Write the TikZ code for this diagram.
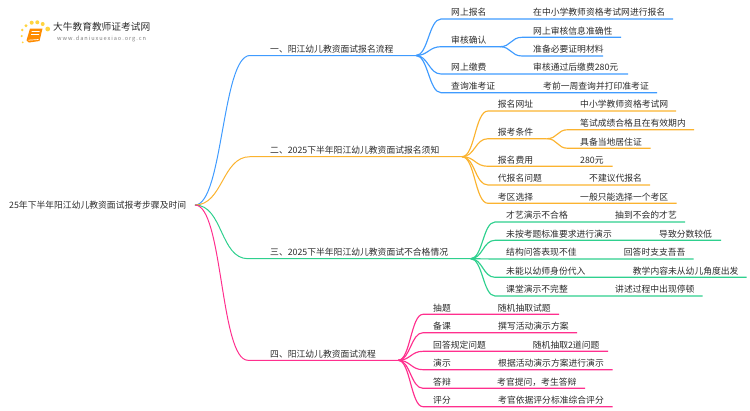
\documentclass[tikz,border=0pt]{standalone}
\usepackage{fontspec}
\setmainfont{Noto Sans CJK SC}
\definecolor{blueln}{HTML}{3F9BFF}
\definecolor{orangeln}{HTML}{FBB32F}
\definecolor{greenln}{HTML}{2ED08E}
\definecolor{pinkln}{HTML}{FF2F8E}
\definecolor{inkc}{HTML}{2B2B2B}
\tikzset{
    lab/.style={anchor=base west, inner sep=0pt, yshift=3.3pt, text=inkc, font=\fontsize{8.8}{9}\selectfont},
    trunk/.style={line width=1pt},
    limb/.style={line width=1.15pt},
    sundot/.style={fill=orange!45!yellow, draw=none, opacity=0.75}
}
\newcommand{\swing}[2]{.. controls +(#1,0) and +(-#1,0) .. (#2)}

\begin{document}
\begin{tikzpicture}[x=1pt, y=-1pt]
    \useasboundingbox (0,0) rectangle (750,410);
    % logo
    \foreach \dotx/\doty/\dotr in {47.7/29/2.4, 42.7/24/2, 37.3/22.3/2, 31.7/22.7/2, 26/25.7/1.6, 22.3/30/1.4, 21.7/36/1.2, 22.7/42.3/1}
        \fill[sundot] (\dotx,\doty) circle (\dotr);
    \fill[orange!90!yellow] (30,28.5) -- (42.5,28.5) -- (39.5,41) -- (29,42.5) -- (26.5,40.5) -- cycle;
    \draw[white, line width=0.7pt] (31.5,31.5) -- (39.5,31.5) (31,34.5) -- (39,34.5) (28.5,40.2) -- (38.5,39.5);
    \node[anchor=west, inner sep=0pt, text=inkc, font=\fontsize{9.7}{10}\selectfont] (logoname) at (53,27) {大牛教育教师证考试网};
    \node[anchor=west, inner sep=0pt, text=black!50, font=\fontsize{5.6}{6}\selectfont] (logourl) at (57,39) {w\,w\,w\,.\,d\,a\,n\,i\,u\,x\,u\,e\,x\,i\,a\,o\,.\,o\,r\,g\,.\,c\,n};

    % root
    \node[anchor=west, inner sep=0pt, text=inkc, font=\fontsize{8.8}{9}\selectfont] (root) at (9,205) {25年下半年阳江幼儿教资面试报考步骤及时间};
    \coordinate (rootp) at (195,205);

    % first level
    \foreach \tag/\colr/\y/\endx/\hubx/\txt in {
        a/blueln/55.5/250/416/{一、阳江幼儿教资面试报名流程},
        b/orangeln/156.7/250/462/{二、2025下半年阳江幼儿教资面试报名须知},
        c/greenln/258.7/248/470.7/{三、2025下半年阳江幼儿教资面试不合格情况},
        d/pinkln/360.3/248/398.3/{四、阳江幼儿教资面试流程}}{
        \node[lab] (\tag) at (270,\y) {\txt};
        \coordinate (\tag s) at (\endx,\y);
        \coordinate (\tag h) at (\hubx,\y);
        \draw[trunk, \colr] (rootp) \swing{28}{\tag s} -- (\tag h);
    }

    % blue branch
    \foreach \tag/\y/\leafx/\endx/\txt/\leaf in {
        a1/19/533/673/{网上报名}/{在中小学教师资格考试网进行报名},
        a3/74/533/628/{网上缴费}/{审核通过后缴费280元},
        a4/92.7/543/657/{查询准考证}/{考前一周查询并打印准考证}}{
        \node[lab] (\tag) at (451,\y) {\txt};
        \node[lab] (\tag x) at (\leafx,\y) {\leaf};
        \coordinate (\tag s) at (441,\y);
        \coordinate (\tag e) at (\endx,\y);
        \draw[limb, blueln] (ah) \swing{12}{\tag s} -- (\tag e);
    }
    \node[lab] (a2) at (451,46.7) {审核确认};
    \coordinate (a2s) at (441,46.7);
    \coordinate (a2h) at (500,46.7);
    \draw[limb, blueln] (ah) \swing{12}{a2s} -- (a2h);
    \foreach \tag/\y/\endx/\leaf in {a2a/37.3/621/{网上审核信息准确性}, a2b/56/603/{准备必要证明材料}}{
        \node[lab] (\tag) at (533,\y) {\leaf};
        \coordinate (\tag s) at (522,\y);
        \coordinate (\tag e) at (\endx,\y);
        \draw[limb, blueln] (a2h) \swing{11}{\tag s} -- (\tag e);
    }

    % orange branch
    \foreach \tag/\y/\leafx/\endx/\txt/\leaf in {
        b1/111/580/676/{报名网址}/{中小学教师资格考试网},
        b3/166.3/580/612.7/{报名费用}/{280元},
        b4/185/589/650/{代报名问题}/{不建议代报名},
        b5/203.3/580/676.7/{考区选择}/{一般只能选择一个考区}}{
        \node[lab] (\tag) at (497.7,\y) {\txt};
        \node[lab] (\tag x) at (\leafx,\y) {\leaf};
        \coordinate (\tag s) at (488,\y);
        \coordinate (\tag e) at (\endx,\y);
        \draw[limb, orangeln] (bh) \swing{13}{\tag s} -- (\tag e);
    }
    \node[lab] (b2) at (497.7,138.7) {报考条件};
    \coordinate (b2s) at (488,138.7);
    \coordinate (b2h) at (546.7,138.7);
    \draw[limb, orangeln] (bh) \swing{13}{b2s} -- (b2h);
    \foreach \tag/\y/\endx/\leaf in {b2a/129.7/694/{笔试成绩合格且在有效期内}, b2b/148.3/650.7/{具备当地居住证}}{
        \node[lab] (\tag) at (580,\y) {\leaf};
        \coordinate (\tag s) at (568,\y);
        \coordinate (\tag e) at (\endx,\y);
        \draw[limb, orangeln] (b2h) \swing{11}{\tag s} -- (\tag e);
    }

    % green branch
    \foreach \tag/\y/\leafx/\endx/\txt/\leaf in {
        c1/222/615/685/{才艺演示不合格}/{抽到不会的才艺},
        c2/240.3/659/721/{未按考题标准要求进行演示}/{导致分数较低},
        c3/259/623.7/693.7/{结构问答表现不佳}/{回答时支支吾吾},
        c4/277.3/632.7/746.7/{未能以幼师身份代入}/{教学内容未从幼儿角度出发},
        c5/296/615/702.7/{课堂演示不完整}/{讲述过程中出现停顿}}{
        \node[lab] (\tag) at (506,\y) {\txt};
        \node[lab] (\tag x) at (\leafx,\y) {\leaf};
        \coordinate (\tag s) at (495,\y);
        \coordinate (\tag e) at (\endx,\y);
        \draw[limb, greenln] (ch) \swing{12}{\tag s} -- (\tag e);
    }

    % pink branch
    \foreach \tag/\y/\leafx/\endx/\txt/\leaf in {
        d1/314.3/497.7/559/{抽题}/{随机抽取试题},
        d2/332.7/498/577/{备课}/{撰写活动演示方案},
        d3/351.3/532.7/608/{回答规定问题}/{随机抽取2道问题},
        d4/369.7/498/612.7/{演示}/{根据活动演示方案进行演示},
        d5/388.3/497/585/{答辩}/{考官提问，考生答辩},
        d6/406.7/498/612.7/{评分}/{考官依据评分标准综合评分}}{
        \node[lab] (\tag) at (433,\y) {\txt};
        \node[lab] (\tag x) at (\leafx,\y) {\leaf};
        \coordinate (\tag s) at (423,\y);
        \coordinate (\tag e) at (\endx,\y);
        \draw[limb, pinkln] (dh) \swing{12}{\tag s} -- (\tag e);
    }
\end{tikzpicture}
\end{document}
